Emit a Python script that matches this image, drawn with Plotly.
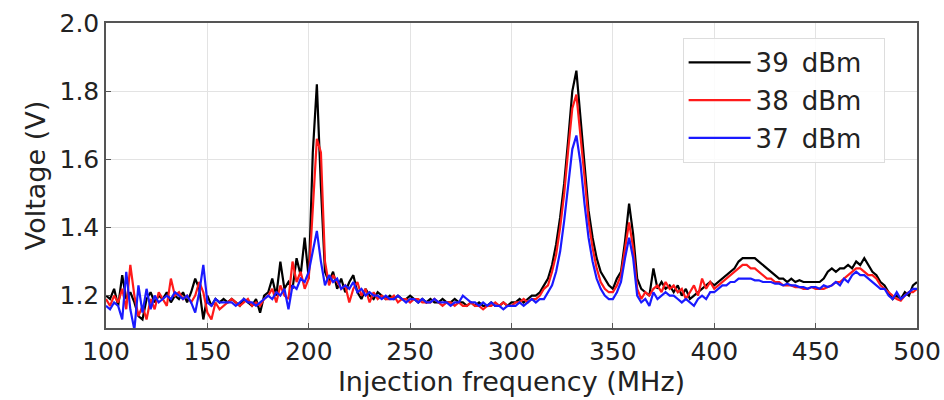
import plotly.graph_objects as go

freq = list(range(100, 501, 2))

v39 = [
    1.20, 1.19, 1.22, 1.17, 1.26, 1.19, 1.21, 1.18, 1.14, 1.13,
    1.19, 1.21, 1.18, 1.20, 1.19, 1.21, 1.18, 1.20, 1.19, 1.21,
    1.18, 1.21, 1.25, 1.22, 1.13, 1.20, 1.17, 1.19, 1.18, 1.19,
    1.18, 1.19, 1.18, 1.17, 1.19, 1.18, 1.17, 1.19, 1.15, 1.20,
    1.21, 1.25, 1.20, 1.30, 1.22, 1.24, 1.22, 1.31, 1.26, 1.37,
    1.25, 1.62, 1.82, 1.52, 1.27, 1.24, 1.27, 1.22, 1.25, 1.21,
    1.24, 1.26, 1.21, 1.19, 1.22, 1.20, 1.19, 1.21, 1.20, 1.19,
    1.20, 1.19, 1.20, 1.19, 1.19, 1.20, 1.19, 1.18, 1.19, 1.18,
    1.19, 1.18, 1.18, 1.19, 1.18, 1.18, 1.19, 1.18, 1.18, 1.17,
    1.18, 1.17, 1.18, 1.17, 1.17, 1.18, 1.17, 1.17, 1.18, 1.17,
    1.18, 1.18, 1.19, 1.18, 1.19, 1.20, 1.20, 1.21, 1.23, 1.25,
    1.29, 1.35, 1.43, 1.53, 1.66, 1.80, 1.86, 1.72, 1.58, 1.45,
    1.37, 1.31, 1.27, 1.25, 1.23, 1.22, 1.25, 1.27, 1.36, 1.47,
    1.38, 1.25, 1.22, 1.21, 1.20, 1.28, 1.22, 1.24, 1.22, 1.23,
    1.21, 1.23, 1.20, 1.22, 1.19, 1.20, 1.21, 1.22, 1.23, 1.24,
    1.23, 1.24, 1.25, 1.26, 1.27, 1.28, 1.30, 1.31, 1.31, 1.31,
    1.31, 1.30, 1.29, 1.28, 1.27, 1.26, 1.25, 1.25, 1.24, 1.25,
    1.24, 1.245, 1.24, 1.24, 1.24, 1.24, 1.24, 1.25, 1.27, 1.28,
    1.27, 1.28, 1.28, 1.29, 1.28, 1.30, 1.29, 1.31, 1.29, 1.27,
    1.26, 1.24, 1.23, 1.21, 1.19, 1.20, 1.19, 1.21, 1.20, 1.23,
    1.24,
]

v38 = [
    1.19, 1.17, 1.20, 1.18, 1.22, 1.16, 1.29, 1.20, 1.14, 1.17,
    1.13, 1.19, 1.16, 1.21, 1.19, 1.17, 1.25, 1.20, 1.21, 1.19,
    1.20, 1.18, 1.20, 1.24, 1.21, 1.15, 1.13, 1.18, 1.16, 1.17,
    1.18, 1.19, 1.18, 1.17, 1.18, 1.19, 1.17, 1.18, 1.17, 1.19,
    1.20, 1.22, 1.18, 1.23, 1.20, 1.19, 1.30, 1.24, 1.27, 1.22,
    1.25, 1.46, 1.66, 1.62, 1.30, 1.23, 1.26, 1.24, 1.22, 1.23,
    1.18, 1.22, 1.24, 1.20, 1.22, 1.18, 1.21, 1.19, 1.20, 1.19,
    1.19, 1.20, 1.18, 1.19, 1.19, 1.18, 1.19, 1.19, 1.18, 1.18,
    1.18, 1.19, 1.18, 1.17, 1.18, 1.18, 1.17, 1.18, 1.17, 1.17,
    1.18, 1.17, 1.17, 1.16, 1.17, 1.17, 1.18, 1.17, 1.18, 1.17,
    1.17, 1.18, 1.18, 1.19, 1.18, 1.19, 1.19, 1.20, 1.22, 1.23,
    1.27, 1.32, 1.40, 1.50, 1.63, 1.75, 1.79, 1.68, 1.55, 1.42,
    1.34, 1.28, 1.24, 1.22, 1.21, 1.21, 1.23, 1.26, 1.34, 1.415,
    1.34, 1.22, 1.19, 1.21, 1.20, 1.22, 1.23, 1.21, 1.24, 1.22,
    1.23, 1.21, 1.22, 1.19, 1.21, 1.23, 1.20, 1.25, 1.22, 1.24,
    1.22, 1.23, 1.24, 1.25, 1.26, 1.27, 1.28, 1.29, 1.29, 1.28,
    1.28, 1.27, 1.26, 1.25, 1.25, 1.24, 1.24, 1.23, 1.23, 1.23,
    1.225, 1.225, 1.22, 1.22, 1.225, 1.22, 1.22, 1.22, 1.225, 1.23,
    1.24, 1.24, 1.25, 1.26, 1.27, 1.28, 1.28, 1.27, 1.26, 1.26,
    1.25, 1.23, 1.22, 1.21, 1.20, 1.19, 1.185, 1.20, 1.21, 1.21,
    1.22,
]

v37 = [
    1.17, 1.16, 1.18, 1.17, 1.13, 1.27, 1.16, 1.10, 1.23, 1.15,
    1.22, 1.16, 1.20, 1.18, 1.19, 1.20, 1.19, 1.21, 1.20, 1.19,
    1.20, 1.18, 1.15, 1.21, 1.29, 1.18, 1.17, 1.19, 1.18, 1.18,
    1.18, 1.18, 1.17, 1.18, 1.19, 1.18, 1.18, 1.17, 1.18, 1.19,
    1.20, 1.19, 1.21, 1.20, 1.22, 1.16, 1.23, 1.22, 1.25, 1.24,
    1.27, 1.33, 1.39, 1.30, 1.23, 1.26, 1.24, 1.25, 1.22, 1.23,
    1.22, 1.24, 1.21, 1.22, 1.20, 1.21, 1.20, 1.20, 1.19, 1.20,
    1.19, 1.19, 1.20, 1.19, 1.18, 1.19, 1.19, 1.18, 1.19, 1.18,
    1.18, 1.19, 1.18, 1.18, 1.18, 1.17, 1.18, 1.18, 1.20, 1.19,
    1.18, 1.18, 1.17, 1.18, 1.17, 1.18, 1.17, 1.17, 1.16, 1.17,
    1.17, 1.17, 1.18, 1.17, 1.18, 1.19, 1.18, 1.19, 1.19, 1.21,
    1.23, 1.27, 1.33, 1.42, 1.52, 1.63, 1.67, 1.59, 1.47, 1.37,
    1.30, 1.25, 1.22, 1.20, 1.19, 1.19, 1.21, 1.24, 1.31, 1.37,
    1.31, 1.20, 1.18, 1.19, 1.17, 1.21, 1.19, 1.20, 1.21, 1.20,
    1.20, 1.19, 1.18, 1.19, 1.18, 1.17, 1.19, 1.20, 1.19, 1.21,
    1.21, 1.22, 1.23, 1.23, 1.24, 1.24, 1.25, 1.25, 1.25, 1.25,
    1.245, 1.245, 1.24, 1.24, 1.24, 1.235, 1.235, 1.23, 1.235, 1.23,
    1.23, 1.225, 1.225, 1.22, 1.225, 1.225, 1.22, 1.23, 1.225, 1.23,
    1.24, 1.23, 1.25, 1.24, 1.26, 1.27, 1.26, 1.26, 1.25, 1.24,
    1.23, 1.22, 1.22, 1.20, 1.19, 1.21, 1.19, 1.20, 1.21, 1.22,
    1.22,
]

series = [("39 dBm", v39, "#000000"), ("38 dBm", v38, "#ff1a1a"), ("37 dBm", v37, "#1a1aff")]

x_ticks = [100, 150, 200, 250, 300, 350, 400, 450, 500]
y_ticks = [1.2, 1.4, 1.6, 1.8, 2.0]

fig = go.Figure()
for i, (name, vals, col) in enumerate(series):
    label = name.replace(" ", "\u2002") + "\u00a0\u00a0"
    fig.add_trace(go.Scatter(x=freq, y=vals, mode="lines", name=label,
                             legendgroup="g%d" % i,
                             line=dict(color=col, width=2.2)))

axis_common = dict(showline=True, mirror=True, linecolor="#555555", linewidth=1.5,
                   showgrid=True, gridcolor="#e3e3e3", gridwidth=1,
                   ticks="inside", ticklen=5, tickcolor="#555555",
                   tickfont=dict(size=25, color="#222222"), zeroline=False,
                   automargin=False)

fig.update_layout(
    width=944, height=400,
    margin=dict(l=106, r=27, t=23, b=72),
    paper_bgcolor="white", plot_bgcolor="white",
    font=dict(family="DejaVu Sans", color="#222222"),
    showlegend=True,
    legend=dict(x=0.711, y=0.951, xanchor="left", yanchor="top",
                bgcolor="rgba(255,255,255,0.85)", bordercolor="#dddddd", borderwidth=1,
                font=dict(size=26, color="#222222"), tracegroupgap=1, itemwidth=62),
    xaxis=dict(range=[100, 500], tickvals=x_ticks,
               title=dict(text="Injection frequency (MHz)", font=dict(size=27), standoff=4),
               **axis_common),
    yaxis=dict(range=[1.105, 2.0], tickvals=y_ticks, tickformat=".1f",
               title=dict(text="Voltage (V)", font=dict(size=27), standoff=6),
               **axis_common),
)

fig.write_html("out.html")
